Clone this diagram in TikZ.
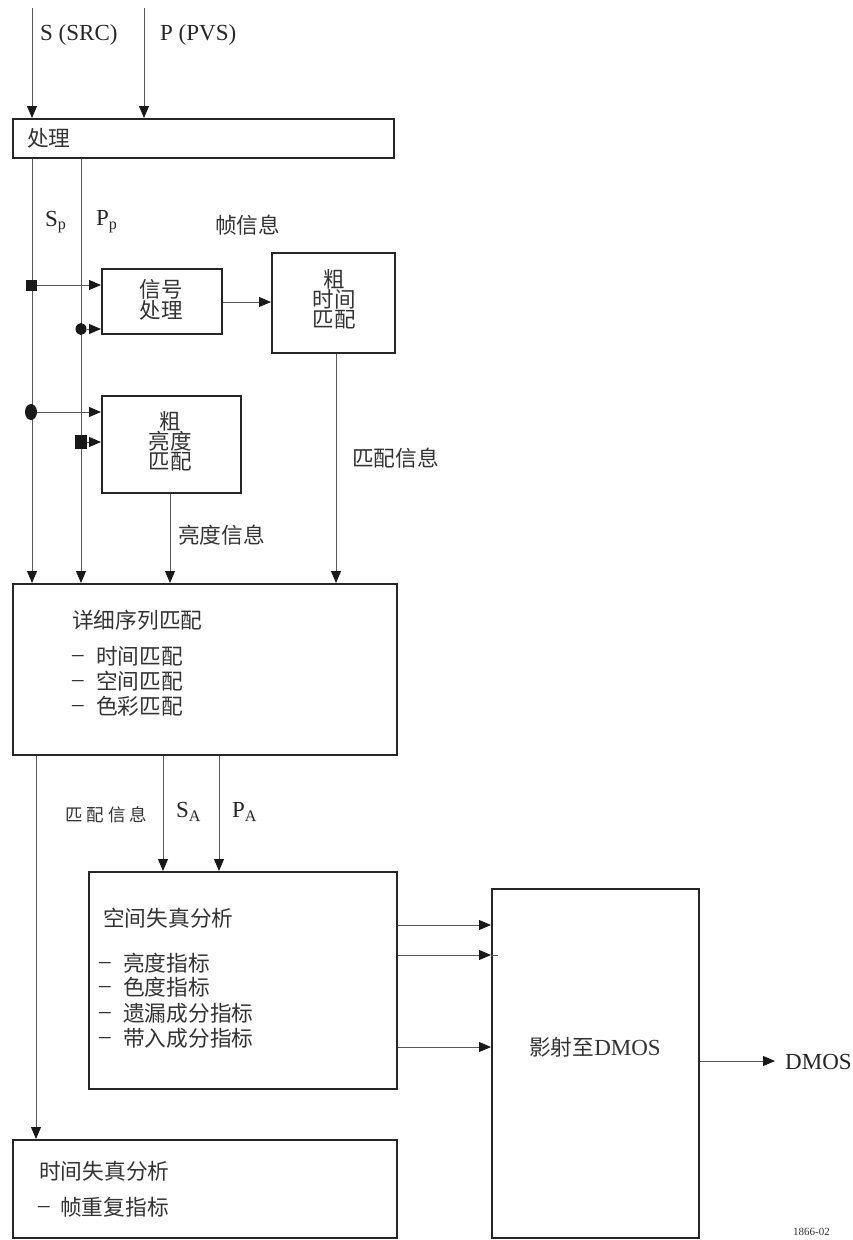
\documentclass[tikz,border=0pt]{standalone}
\usepackage{fontspec}
\setmainfont{Liberation Serif}
\newfontfamily\cjk{Noto Sans CJK SC}
\usetikzlibrary{arrows.meta,shapes.geometric}
\begin{document}
\begin{tikzpicture}[x=1pt,y=-1pt,
  box/.style={draw=black!85, line width=1.9pt, anchor=north west, inner sep=0pt},
  conn/.style={draw=black!65, line width=0.9pt},
  arr/.style={conn, -{Triangle[length=12pt,width=10pt,color=black!90]}},
  lat/.style={inner sep=0pt, anchor=west, text=black!85, font=\fontsize{23}{24}\selectfont},
  cjkt/.style={inner sep=0pt, anchor=west, text=black!80, font=\cjk\fontsize{21.7}{22}\selectfont},
  stack/.style={inner sep=0pt, align=center, text=black!80, font=\cjk\fontsize{21.5}{19.5}\selectfont},
  sqmark/.style={fill=black!90, inner sep=0pt, minimum width=11pt, minimum height=11pt},
  dotmark/.style={fill=black!90, ellipse, inner sep=0pt},
]
\useasboundingbox (0,0) rectangle (853,1240);

% boxes
\node[box, minimum width=381pt, minimum height=39pt] (proc) at (12,118) {};
\node[box, minimum width=120pt, minimum height=65pt] (sig) at (101,268) {};
\node[box, minimum width=123pt, minimum height=100pt] (ctime) at (271,252) {};
\node[box, minimum width=139pt, minimum height=97pt] (cluma) at (101,395) {};
\node[box, minimum width=384pt, minimum height=171pt] (detail) at (12,583) {};
\node[box, minimum width=308pt, minimum height=217pt] (spatial) at (88,871) {};
\node[box, minimum width=207pt, minimum height=349pt] (dmos) at (491,888) {};
\node[box, minimum width=384pt, minimum height=98pt] (temporal) at (12,1139) {};

% box texts
\node[cjkt] (tproc) at (27,138) {处理};
\node[stack] (tsig) at (161,300) {信号\\处理};
\node[stack] (tctime) at (334,299) {粗\\时间\\匹配};
\node[stack] (tcluma) at (170,441) {粗\\亮度\\匹配};

\node[cjkt] (td0) at (72,620) {详细序列匹配};
\node[lat] (dd1) at (72,659) {–};
\node[cjkt] (td1) at (96,656) {时间匹配};
\node[lat] (dd2) at (72,684) {–};
\node[cjkt] (td2) at (96,681) {空间匹配};
\node[lat] (dd3) at (72,709) {–};
\node[cjkt] (td3) at (96,706) {色彩匹配};

\node[cjkt] (ts0) at (103,918) {空间失真分析};
\node[lat] (ds1) at (99,966) {–};
\node[cjkt] (ts1) at (123,963) {亮度指标};
\node[lat] (ds2) at (99,990) {–};
\node[cjkt] (ts2) at (123,987) {色度指标};
\node[lat] (ds3) at (99,1016) {–};
\node[cjkt] (ts3) at (123,1013) {遗漏成分指标};
\node[lat] (ds4) at (99,1041) {–};
\node[cjkt] (ts4) at (123,1038) {带入成分指标};

\node[cjkt] (tt0) at (39,1171) {时间失真分析};
\node[lat] (dt1) at (38,1210) {–};
\node[cjkt] (tt1) at (60,1207) {帧重复指标};

\node[inner sep=0pt, text=black!80] (tdmos) at (595,1047) {\cjk\fontsize{21.7}{22}\selectfont 影射至\fontspec{Liberation Serif}\fontsize{23}{24}\selectfont DMOS};

% labels
\node[lat] (lS) at (40,35) {S (SRC)};
\node[lat] (lP) at (160,35) {P (PVS)};
\node[lat] (lSp) at (45,222) {S$_{\mathrm{p}}$};
\node[lat] (lPp) at (96,222) {P$_{\mathrm{p}}$};
\node[cjkt] (lframe) at (215,225) {帧信息};
\node[cjkt] (lmatch1) at (352,458) {匹配信息};
\node[cjkt] (lluma) at (178,535) {亮度信息};
\node[inner sep=0pt, anchor=west, text=black!80, font=\cjk\fontsize{17.5}{20}\selectfont] (lmatch2) at (65,815) {匹\hspace{4pt}配\hspace{4pt}信\hspace{4pt}息};
\node[lat] (lSA) at (176,812) {S$_{\mathrm{A}}$};
\node[lat] (lPA) at (232,812) {P$_{\mathrm{A}}$};
\node[lat] (lout) at (785,1062) {DMOS};
\node[inner sep=0pt, anchor=south west, text=black!80, font=\fontsize{11}{12}\selectfont] (lnum) at (793,1236) {1866-02};

% input lines
\coordinate (s0) at (32,8);
\coordinate (p0) at (144,8);
\draw[arr] (s0) -- (s0 |- proc.north);
\draw[arr] (p0) -- (p0 |- proc.north);

% Sp, Pp lines
\coordinate (sx) at (32,0);
\coordinate (px) at (81,0);
\draw[arr] (sx |- proc.south) -- (sx |- detail.north);
\draw[arr] (px |- proc.south) -- (px |- detail.north);

% junctions and branches
\node[sqmark] (j1) at (31,285) {};
\node[dotmark, minimum width=11pt, minimum height=12pt] (j2) at (81,329) {};
\node[dotmark, minimum width=12pt, minimum height=16pt] (j3) at (31,412) {};
\node[sqmark, minimum width=12pt, minimum height=14pt] (j4) at (81,442) {};
\draw[arr] (j1) -- (j1 -| sig.west);
\draw[arr] (j2) -- (j2 -| sig.west);
\draw[arr] (j3) -- (j3 -| cluma.west);
\draw[arr] (j4) -- (j4 -| cluma.west);

\coordinate (y302) at (0,302);
\draw[arr] (sig.east |- y302) -- (ctime.west |- y302);

\coordinate (mx) at (336,0);
\draw[arr] (mx |- ctime.south) -- (mx |- detail.north);
\coordinate (lx) at (170,0);
\draw[arr] (lx |- cluma.south) -- (lx |- detail.north);

% below detail
\coordinate (tx) at (36,0);
\coordinate (sax) at (163,0);
\coordinate (pax) at (219,0);
\draw[arr] (tx |- detail.south) -- (tx |- temporal.north);
\draw[arr] (sax |- detail.south) -- (sax |- spatial.north);
\draw[arr] (pax |- detail.south) -- (pax |- spatial.north);

% spatial to dmos
\coordinate (r1) at (0,925);
\coordinate (r2) at (0,955);
\coordinate (r3) at (0,1047);
\draw[arr] (spatial.east |- r1) -- (dmos.west |- r1);
\draw[arr] (spatial.east |- r2) -- (dmos.west |- r2);
\draw[conn] (dmos.west |- r2) -- ++(7,0);
\draw[arr] (spatial.east |- r3) -- (dmos.west |- r3);

% output
\coordinate (o1) at (775,1061);
\draw[arr] (dmos.east |- o1) -- (o1);
\end{tikzpicture}
\end{document}
